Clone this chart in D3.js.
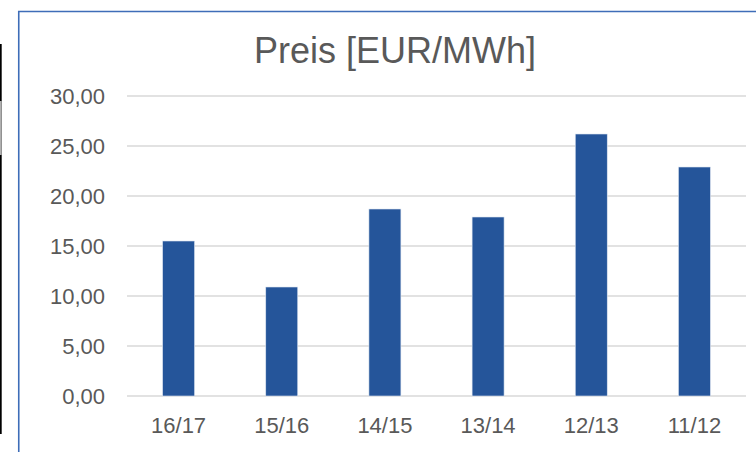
<!DOCTYPE html>
<html>
<head>
<meta charset="utf-8">
<script src="https://cdn.jsdelivr.net/npm/d3@7"></script>
<style>
	body { margin: 0; background: #fff; }
	svg { display: block; font-family: "Liberation Sans", Arial, sans-serif; }
</style>
</head>
<body>
<div id="viz"></div>
<script>
// data
var categories = ["16/17", "15/16", "14/15", "13/14", "12/13", "11/12"];
var prices = [15.5, 10.9, 18.7, 17.9, 26.2, 22.9];
var yTicks = [0, 5, 10, 15, 20, 25, 30];
var chartTitle = "Preis [EUR/MWh]";

var WIDTH = 756;
var HEIGHT = 452;
var TEXT_COLOR = "#595959";
var GRID_COLOR = "#d9d9d9";
var BAR_COLOR = "#25559a";

var svg = d3.select("#viz").append("svg")
	.attr("width", WIDTH)
	.attr("height", HEIGHT);

// cropped edge of something else on the left
svg.append("rect").attr("x", 0).attr("y", 44).attr("width", 1.7).attr("height", 390).attr("fill", "#000");
svg.append("rect").attr("x", 0).attr("y", 101).attr("width", 1.7).attr("height", 54).attr("fill", "#b0b0b0");

// chart frame (only left and top are visible)
svg.append("path")
	.attr("d", "M 18.75 " + HEIGHT + " L 18.75 11.5 L " + WIDTH + " 11.5")
	.attr("fill", "none")
	.attr("stroke", "#3e6db8")
	.attr("stroke-width", 1.6);

var x = d3.scaleBand()
	.domain(categories)
	.range([127, 746])
	.paddingInner(0.69)
	.paddingOuter(0.345);

var y = d3.scaleLinear()
	.domain([0, 30])
	.range([396, 96]);

// gridlines
svg.append("g")
	.selectAll("line")
	.data(yTicks)
	.enter().append("line")
	.attr("x1", 127)
	.attr("x2", 746)
	.attr("y1", function(d) { return y(d); })
	.attr("y2", function(d) { return y(d); })
	.attr("stroke", GRID_COLOR)
	.attr("stroke-width", 1.6);

// y axis labels
var yAxis = d3.axisLeft(y)
	.tickValues(yTicks)
	.tickSize(0)
	.tickPadding(0)
	.tickFormat(function(d) { return d3.format(".2f")(d).replace(".", ","); });

var yg = svg.append("g")
	.attr("transform", "translate(105,0)")
	.call(yAxis);
yg.select(".domain").remove();
yg.selectAll("text")
	.attr("fill", TEXT_COLOR)
	.attr("font-size", 22)
	.attr("font-family", "Liberation Sans, Arial, sans-serif");

// bars
svg.append("g")
	.selectAll("rect")
	.data(prices)
	.enter().append("rect")
	.attr("x", function(d, i) { return x(categories[i]); })
	.attr("y", function(d) { return y(d); })
	.attr("width", x.bandwidth())
	.attr("height", function(d) { return y(0) - y(d); })
	.attr("fill", BAR_COLOR)
	.attr("stroke", "#dfe6f0")
	.attr("stroke-width", 0.6);

// x axis labels
var xAxis = d3.axisBottom(x)
	.tickSize(0)
	.tickPadding(0);

var xg = svg.append("g")
	.attr("transform", "translate(0,417)")
	.call(xAxis);
xg.select(".domain").remove();
xg.selectAll("text")
	.attr("dy", "0.71em")
	.attr("fill", TEXT_COLOR)
	.attr("font-size", 22)
	.attr("font-family", "Liberation Sans, Arial, sans-serif");

// title
svg.append("text")
	.attr("x", 395)
	.attr("y", 63)
	.attr("text-anchor", "middle")
	.attr("fill", TEXT_COLOR)
	.attr("font-size", 36)
	.text(chartTitle);
</script>
</body>
</html>
